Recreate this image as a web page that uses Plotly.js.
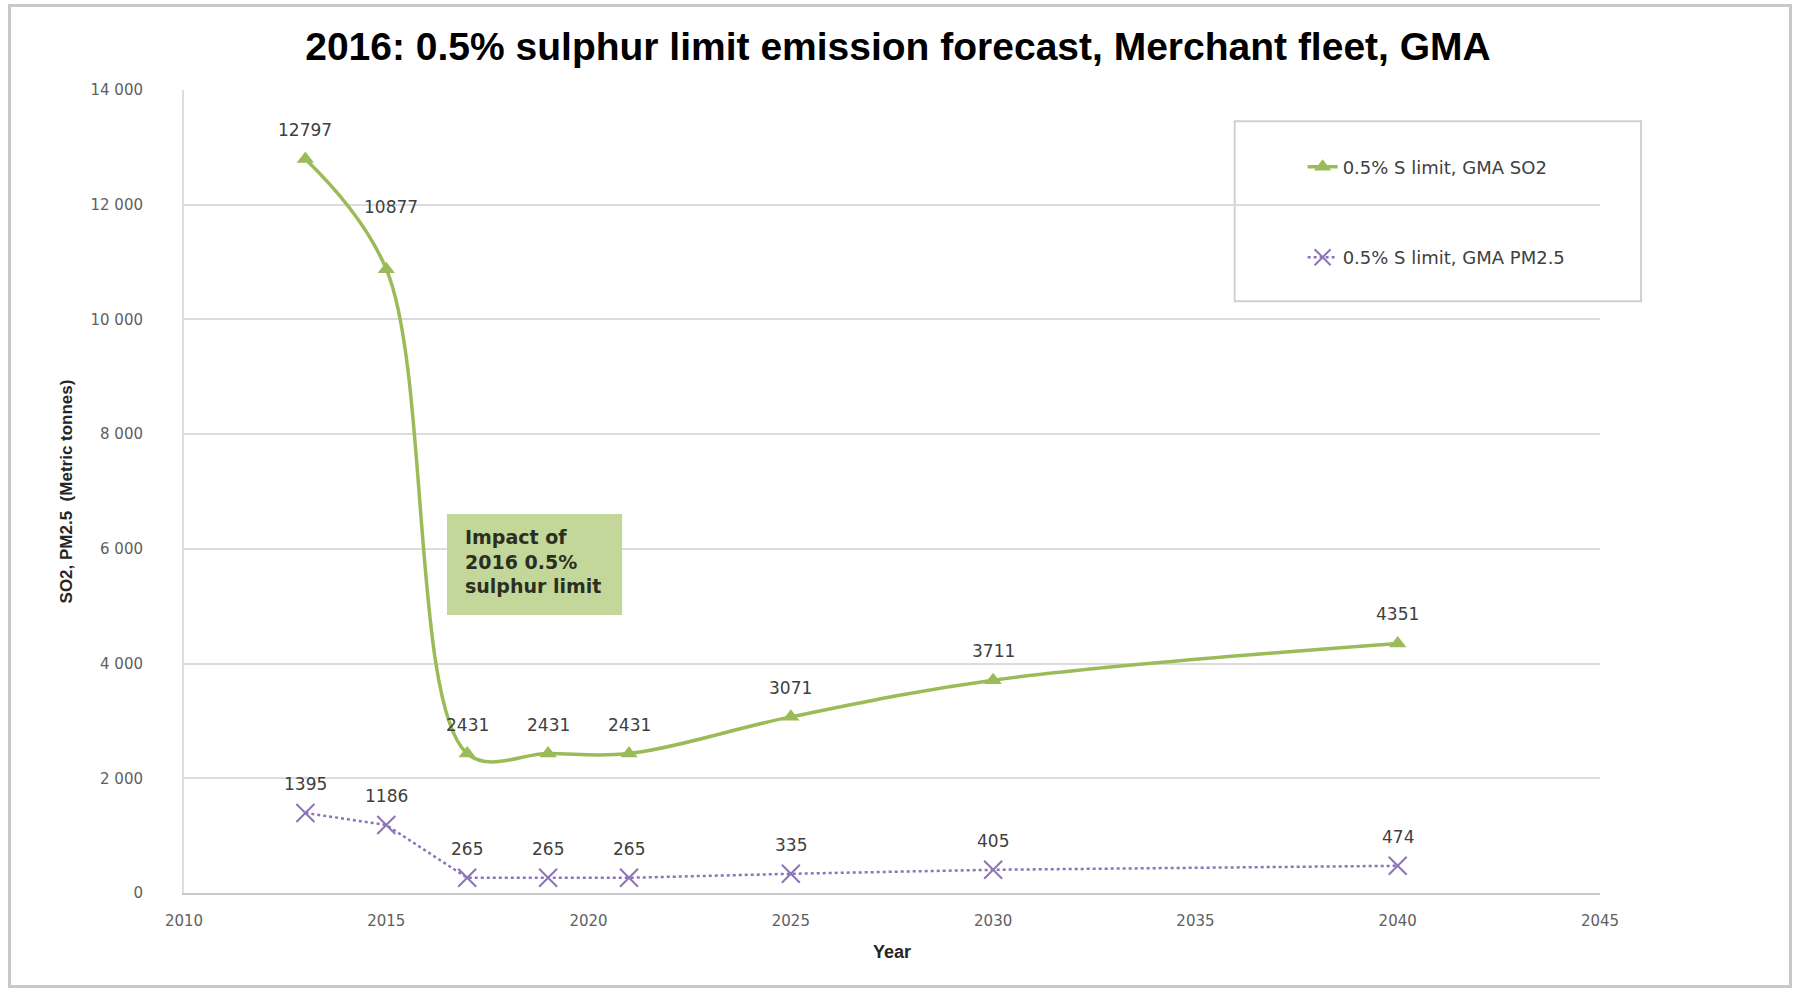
<!DOCTYPE html>
<html>
<head>
<meta charset="utf-8">
<script src="https://cdn.plot.ly/plotly-3.0.1.min.js"></script>
<style>
  html, body { margin: 0; padding: 0; background: #ffffff; }
  #chart { width: 1796px; height: 990px; position: absolute; left: 0; top: 0; }
  #frame { position: absolute; left: 8px; top: 4px; width: 1778px; height: 978px;
           border: 3px solid #c8c8c8; pointer-events: none; }
</style>
</head>
<body>
<div id="chart"></div>
<div id="frame"></div>
<script>
// ---- data ----
const years = [2013, 2015, 2017, 2019, 2021, 2025, 2030, 2040];
const so2Values = [12797, 10877, 2431, 2431, 2431, 3071, 3711, 4351];
const pm25Values = [1395, 1186, 265, 265, 265, 335, 405, 474];
const so2Name = "0.5% S limit, GMA SO2";
const pm25Name = "0.5% S limit, GMA PM2.5";
const chartTitle = "2016: 0.5% sulphur limit emission forecast, Merchant fleet, GMA";
const xTitle = "Year";
const yTitle = "SO2, PM2.5  (Metric tonnes)";
const noteText = "Impact of<br>2016 0.5%<br>sulphur limit";

const green = "#9bbb59";
const purple = "#8d74b8";
const labelFont = { family: "DejaVu Sans", size: 17, color: "#404040" };

const traces = [
  {
    x: years, y: so2Values, name: so2Name, type: "scatter", mode: "lines+markers",
    line: { color: green, width: 3.5, shape: "spline", smoothing: 1 },
    marker: { symbol: "triangle-up", size: 15, color: green },
    legendgroup: "a", hoverinfo: "x+y"
  },
  {
    x: years, y: pm25Values, name: pm25Name, type: "scatter", mode: "lines+markers",
    line: { color: purple, width: 2.5, dash: "dot" },
    marker: { symbol: "x-thin-open", size: 18, color: purple, line: { color: purple, width: 2 } },
    legendgroup: "b", hoverinfo: "x+y"
  }
];

const annotations = [];
years.forEach((yr, i) => {
  annotations.push({
    x: yr, y: so2Values[i], text: String(so2Values[i]), showarrow: false,
    yshift: i === 1 ? 62 : 29, xshift: i === 1 ? 5 : 0, font: labelFont
  });
  annotations.push({
    x: yr, y: pm25Values[i], text: String(pm25Values[i]), showarrow: false,
    yshift: 29, font: labelFont
  });
});
annotations.push({
  x: 2016.5, y: 5780, xanchor: "left", yanchor: "middle", xshift: 16,
  text: noteText, align: "left", showarrow: false,
  font: { family: "DejaVu Sans", size: 19, color: "#2a2f1f", weight: "bold" }
});

const layout = {
  width: 1796, height: 990,
  paper_bgcolor: "#ffffff", plot_bgcolor: "#ffffff",
  margin: { l: 184, r: 196, t: 90, b: 97 },
  separators: ". ",
  title: {
    text: chartTitle, x: 0.5, xref: "container", y: 1 - 46 / 990, yref: "container",
    xanchor: "center", yanchor: "middle",
    font: { family: "Liberation Sans, Arial", size: 39, color: "#000000", weight: "bold" }
  },
  xaxis: {
    range: [2010, 2045], tick0: 2010, dtick: 5, showgrid: false, zeroline: false,
    showline: true, linecolor: "#c8c8c8", linewidth: 2, ticks: "",
    tickfont: { family: "DejaVu Sans", size: 15, color: "#606060" },
    ticklabelstandoff: 13,
    title: { text: xTitle, standoff: 16,
      font: { family: "Liberation Sans, Arial", size: 18, color: "#262626", weight: "bold" } }
  },
  yaxis: {
    range: [0, 14000], dtick: 2000, tickformat: ",d", showgrid: true,
    gridcolor: "#dcdcdc", gridwidth: 2, zeroline: false,
    showline: true, linecolor: "#dcdcdc", linewidth: 2, ticks: "",
    tickfont: { family: "DejaVu Sans", size: 15, color: "#606060" },
    ticklabelstandoff: 36,
    title: { text: yTitle, standoff: 14,
      font: { family: "Liberation Sans, Arial", size: 17, color: "#262626", weight: "bold" } }
  },
  showlegend: true,
  legend: {
    x: 0.79, xanchor: "left", y: 0.927, yanchor: "top",
    bgcolor: "rgba(0,0,0,0)", borderwidth: 0,
    traceorder: "grouped", tracegroupgap: 64,
    font: { family: "DejaVu Sans", size: 18, color: "#404040" }
  },
  shapes: [
    { type: "rect", xref: "paper", yref: "paper", x0: 0.742, x1: 1.029, y0: 0.737, y1: 0.961,
      line: { color: "#d0d0d0", width: 2 }, fillcolor: "rgba(0,0,0,0)", layer: "below" },
    { type: "rect", xref: "x", yref: "y", x0: 2016.5, x1: 2020.83, y0: 4847, y1: 6608,
      line: { width: 0 }, fillcolor: "#c4d79b", layer: "above" }
  ],
  annotations: annotations
};

Plotly.newPlot("chart", traces, layout, { displayModeBar: false, staticPlot: true });
</script>
</body>
</html>
